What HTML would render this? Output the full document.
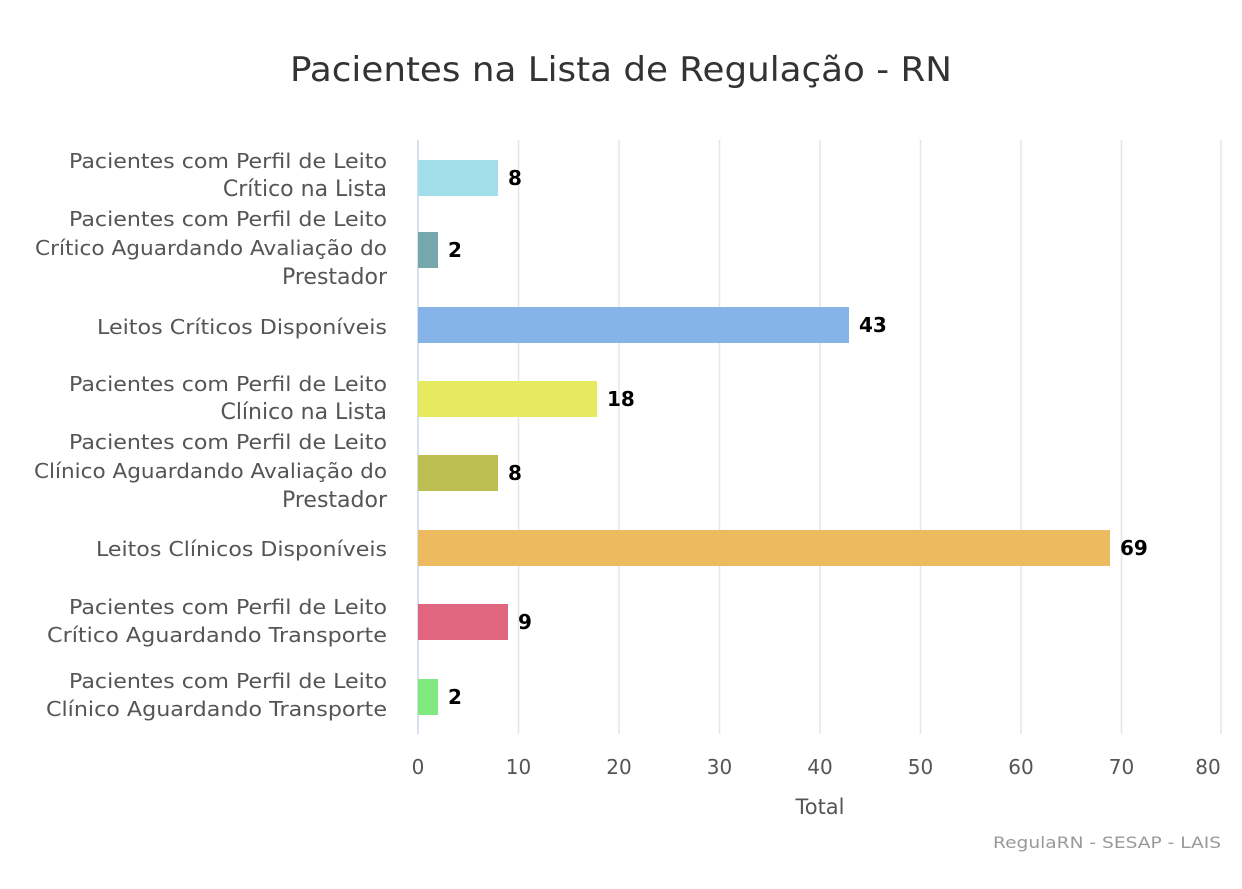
<!DOCTYPE html>
<html><head><meta charset="utf-8"><style>
html,body{margin:0;padding:0;background:#fff;}
svg{display:block;}
text{font-family:"DejaVu Sans","Liberation Sans",sans-serif;}
</style></head><body>
<svg width="1242" height="889" viewBox="0 0 1242 889" xmlns="http://www.w3.org/2000/svg">
<rect width="1242" height="889" fill="#fff"/>
<text x="621" y="81" text-anchor="middle" font-size="34" fill="#333" textLength="662" lengthAdjust="spacingAndGlyphs">Pacientes na Lista de Regulação - RN</text>
<g stroke="#e6e6e6" stroke-width="1.5">
<line x1="518.5" y1="140" x2="518.5" y2="734"/>
<line x1="619" y1="140" x2="619" y2="734"/>
<line x1="719.5" y1="140" x2="719.5" y2="734"/>
<line x1="820" y1="140" x2="820" y2="734"/>
<line x1="920.5" y1="140" x2="920.5" y2="734"/>
<line x1="1021" y1="140" x2="1021" y2="734"/>
<line x1="1121.5" y1="140" x2="1121.5" y2="734"/>
<line x1="1221" y1="140" x2="1221" y2="734"/>
</g>
<line x1="418" y1="140" x2="418" y2="734" stroke="#ccd6eb" stroke-width="1.5"/>
<g>
<rect x="418" y="160" width="80" height="36" fill="#a3dfeb"/>
<rect x="418" y="232" width="20" height="36" fill="#76a7ac"/>
<rect x="418" y="307" width="431" height="36" fill="#86b3e8"/>
<rect x="418" y="381" width="179" height="36" fill="#e6ea5f"/>
<rect x="418" y="455" width="80" height="36" fill="#bcbe52"/>
<rect x="418" y="530" width="692" height="36" fill="#ecba5f"/>
<rect x="418" y="604" width="90" height="36" fill="#e0667f"/>
<rect x="418" y="679" width="20" height="36" fill="#80ea7e"/>
</g>
<g font-size="20" font-weight="bold" fill="#000">
<text x="508" y="185">8</text>
<text x="448" y="257">2</text>
<text x="859" y="332">43</text>
<text x="607" y="406">18</text>
<text x="508" y="480">8</text>
<text x="1120" y="555">69</text>
<text x="518" y="629">9</text>
<text x="448" y="704">2</text>
</g>
<g font-size="20" fill="#555" text-anchor="end">
<text x="387" y="168" textLength="318" lengthAdjust="spacingAndGlyphs">Pacientes com Perfil de Leito</text>
<text x="387" y="196" font-size="22">Crítico na Lista</text>
<text x="387" y="226" textLength="318" lengthAdjust="spacingAndGlyphs">Pacientes com Perfil de Leito</text>
<text x="387" y="255" textLength="352" lengthAdjust="spacingAndGlyphs">Crítico Aguardando Avaliação do</text>
<text x="387" y="284" font-size="22">Prestador</text>
<text x="387" y="334" textLength="290" lengthAdjust="spacingAndGlyphs">Leitos Críticos Disponíveis</text>
<text x="387" y="391" textLength="318" lengthAdjust="spacingAndGlyphs">Pacientes com Perfil de Leito</text>
<text x="387" y="419" font-size="22">Clínico na Lista</text>
<text x="387" y="449" textLength="318" lengthAdjust="spacingAndGlyphs">Pacientes com Perfil de Leito</text>
<text x="387" y="478" textLength="353" lengthAdjust="spacingAndGlyphs">Clínico Aguardando Avaliação do</text>
<text x="387" y="507" font-size="22">Prestador</text>
<text x="387" y="556" textLength="291" lengthAdjust="spacingAndGlyphs">Leitos Clínicos Disponíveis</text>
<text x="387" y="614" textLength="318" lengthAdjust="spacingAndGlyphs">Pacientes com Perfil de Leito</text>
<text x="387" y="642" textLength="340" lengthAdjust="spacingAndGlyphs">Crítico Aguardando Transporte</text>
<text x="387" y="688" textLength="318" lengthAdjust="spacingAndGlyphs">Pacientes com Perfil de Leito</text>
<text x="387" y="716" textLength="341" lengthAdjust="spacingAndGlyphs">Clínico Aguardando Transporte</text>
</g>
<g font-size="20" fill="#555" text-anchor="middle">
<text x="418" y="774">0</text>
<text x="518.5" y="774">10</text>
<text x="619" y="774">20</text>
<text x="719.5" y="774">30</text>
<text x="820" y="774">40</text>
<text x="920.5" y="774">50</text>
<text x="1021" y="774">60</text>
<text x="1121.5" y="774">70</text>
<text x="1208" y="774">80</text>
</g>
<text x="820" y="814" text-anchor="middle" font-size="21" fill="#555">Total</text>
<text x="1221" y="848" text-anchor="end" font-size="16" fill="#999" textLength="228" lengthAdjust="spacingAndGlyphs">RegulaRN - SESAP - LAIS</text>
</svg>
</body></html>
